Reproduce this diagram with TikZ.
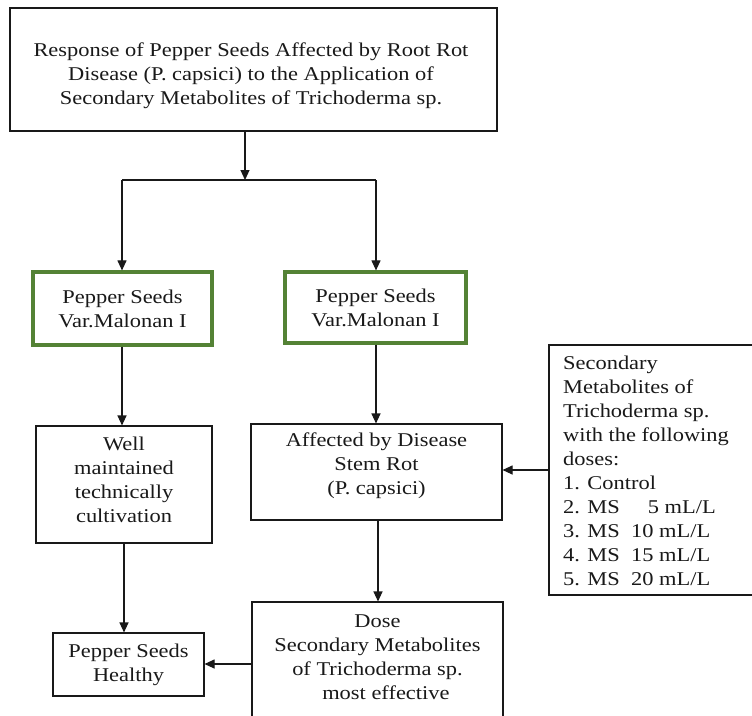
\documentclass[tikz,border=0pt]{standalone}
\usepackage{fontspec}
\setmainfont[FakeStretch=1.15]{Liberation Serif}
\usetikzlibrary{arrows.meta}
\definecolor{boxgreen}{RGB}{84,130,53}
\definecolor{inkc}{RGB}{25,25,25}
\tikzset{
  every node/.style={font=\fontsize{19.5}{24}\selectfont, text=inkc},
  plainbox/.style={draw=inkc, line width=1.1pt, fill=white, align=center, inner sep=0pt},
  greenbox/.style={draw=boxgreen, line width=3.2pt, fill=white, align=center, inner sep=0pt},
  txt/.style={align=center, inner sep=0pt},
  conn/.style={draw=inkc, line width=1.1pt},
  arr/.style={conn, -{Triangle[length=10pt,width=9pt]}}
}
\begin{document}
\begin{tikzpicture}[x=1pt,y=-1pt]
\useasboundingbox (0,0) rectangle (752,715);
\clip (0,0) rectangle (752,715);
\fill[white] (0,0) rectangle (752,715);
% top box
\node[plainbox, minimum width=487pt, minimum height=123pt] (top) at (253.5,69.5) {};
\node[txt] (toptxt) at (251,76) {Response of Pepper Seeds Affected by Root Rot\\Disease (P. capsici) to the Application of\\Secondary Metabolites of Trichoderma sp.};
% green boxes
\node[greenbox, minimum width=179pt, minimum height=73pt] (gl) at (122.5,308.5) {Pepper Seeds\\Var.Malonan I};
\node[greenbox, minimum width=181pt, minimum height=71pt] (gr) at (375.5,307.5) {Pepper Seeds\\Var.Malonan I};
% second row
\node[plainbox, minimum width=176pt, minimum height=117pt] (well) at (124,484.5) {};
\node[txt] (welltxt) at (124,480) {Well\\maintained\\technically\\cultivation};
\node[plainbox, minimum width=251pt, minimum height=96pt] (aff) at (376.5,472) {};
\node[txt] (afftxt) at (376.5,466) {Affected by Disease\\Stem Rot\\(P. capsici)};
% right box
\node[plainbox, minimum width=230pt, minimum height=250pt] (ms) at (664,470) {};
\node[anchor=west, align=left, inner sep=0pt] (mstxt) at (563,470.5) {Secondary\\Metabolites of\\Trichoderma sp.\\with the following\\doses:\\1. Control\\2. MS\ \ \ \phantom{1}5 mL/L\\3. MS\ \ 10 mL/L\\4. MS\ \ 15 mL/L\\5. MS\ \ 20 mL/L};
% bottom row
\node[plainbox, minimum width=151pt, minimum height=63pt] (healthy) at (128.5,664.5) {Pepper Seeds\\Healthy};
\node[plainbox, minimum width=251pt, minimum height=140pt] (dose) at (377.5,672) {};
\node[txt] (dosetxt) at (377.5,657.5) {Dose\\Secondary Metabolites\\of Trichoderma sp.\\\ \ \ most effective};
% junction
\coordinate (j) at (245,180);
\coordinate (jl) at (122,180);
\coordinate (jr) at (376,180);
\draw[arr] (top.south -| j) -- (j);
\draw[conn] (jl) -- (jr);
\draw[arr] (jl) -- (gl.north -| jl);
\draw[arr] (jr) -- (gr.north -| jr);
\draw[arr] (gl.south -| 122,0) -- (well.north -| 122,0);
\draw[arr] (gr.south -| 376,0) -- (aff.north -| 376,0);
\draw[arr] (well.south -| 124,0) -- (healthy.north -| 124,0);
\draw[arr] (aff.south -| 378,0) -- (dose.north -| 378,0);
\draw[arr] (ms.west |- 0,470) -- (aff.east |- 0,470);
\draw[arr] (dose.west |- 0,664) -- (healthy.east |- 0,664);
\end{tikzpicture}
\end{document}
